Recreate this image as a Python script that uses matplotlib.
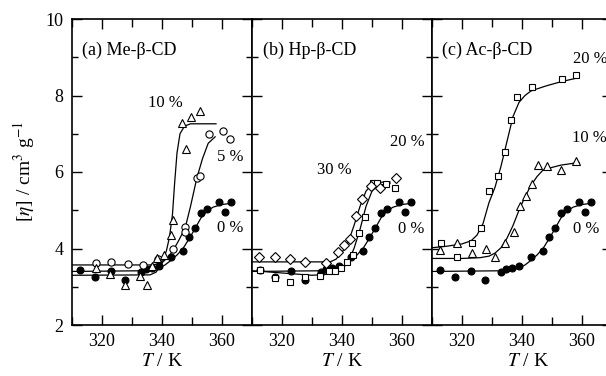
import numpy as np
import matplotlib
matplotlib.use("Agg")
import matplotlib.pyplot as plt
from matplotlib.ticker import MultipleLocator

plt.rcParams['font.family'] = ['Liberation Serif', 'DejaVu Serif']
plt.rcParams['mathtext.fontset'] = 'stix'

# =======================
# data
# =======================

# 0 % (same reference data in every panel)
t_0 = [312.7, 317.8, 323.0, 327.8, 333.0, 334.8, 336.8, 339.0, 343.0, 347.0, 349.0, 351.0, 353.0, 355.0, 359.0, 361.0, 363.0]
eta_0 = [3.44, 3.26, 3.41, 3.17, 3.39, 3.46, 3.49, 3.54, 3.77, 3.94, 4.31, 4.53, 4.92, 5.03, 5.21, 4.95, 5.22]
fit_t_0 = [310, 336, 339, 341, 343, 345, 347, 349, 351, 353, 355, 357, 360, 363]
fit_0 = [3.40, 3.42, 3.49, 3.57, 3.69, 3.83, 4.00, 4.25, 4.52, 4.80, 4.98, 5.08, 5.15, 5.18]

# (a) Me-b-CD
t_a5 = [318.0, 323.1, 328.5, 333.7, 338.8, 343.8, 347.7, 347.7, 351.6, 352.8, 355.6, 360.2, 362.8]
eta_a5 = [3.61, 3.64, 3.59, 3.57, 3.72, 3.98, 4.56, 4.43, 5.85, 5.90, 7.00, 7.08, 6.86]
fit_t_a5 = [310, 337, 340, 342, 343.8, 345.5, 347.7, 349.5, 351.6, 353.5, 355.4, 357.7]
fit_a5 = [3.57, 3.57, 3.63, 3.77, 3.96, 4.20, 4.53, 5.10, 5.84, 6.35, 6.75, 6.92]

t_a10 = [318.0, 322.5, 327.6, 332.8, 335.0, 336.8, 338.4, 340.7, 343.0, 343.6, 346.8, 348.0, 349.8, 352.8]
eta_a10 = [3.48, 3.33, 3.05, 3.27, 3.05, 3.54, 3.74, 3.84, 4.35, 4.75, 7.29, 6.59, 7.43, 7.60]
fit_t_a10 = [310, 336, 338, 340, 341.5, 342.5, 343.5, 344.2, 345, 346, 347.5, 349.5, 358]
fit_a10 = [3.30, 3.31, 3.38, 3.60, 3.95, 4.30, 4.90, 5.70, 6.50, 7.00, 7.20, 7.26, 7.26]

# (b) Hp-b-CD
t_b20 = [312.5, 317.7, 322.7, 327.6, 332.8, 335.7, 337.8, 339.8, 341.6, 343.6, 345.8, 347.7, 350.2, 351.6, 354.7, 357.7]
eta_b20 = [3.43, 3.23, 3.12, 3.26, 3.28, 3.41, 3.41, 3.50, 3.66, 3.83, 4.41, 4.83, 5.70, 5.72, 5.69, 5.57]
fit_t_b20 = [310, 320, 330, 336, 340, 342, 344, 346, 348, 350, 352, 356]
fit_b20 = [3.42, 3.36, 3.30, 3.33, 3.45, 3.65, 4.00, 4.50, 5.10, 5.50, 5.65, 5.70]

t_b30 = [312.4, 317.8, 322.8, 327.8, 334.6, 338.8, 340.8, 342.7, 344.6, 346.5, 349.6, 352.6, 358.0]
eta_b30 = [3.79, 3.79, 3.73, 3.66, 3.61, 3.90, 4.08, 4.26, 4.84, 5.29, 5.64, 5.57, 5.84]
fit_t_b30 = [310, 336, 338, 340, 342, 344, 346, 348, 350, 352, 356]
fit_b30 = [3.65, 3.65, 3.72, 3.90, 4.15, 4.60, 5.10, 5.50, 5.68, 5.73, 5.74]

# (c) Ac-b-CD
t_c10 = [312.7, 318.2, 323.2, 328.0, 331.0, 334.3, 337.3, 339.3, 341.2, 343.4, 345.4, 348.2, 352.9, 358.0]
eta_c10 = [3.96, 4.15, 3.87, 3.98, 3.79, 4.15, 4.43, 5.10, 5.37, 5.68, 6.18, 6.16, 6.05, 6.30]
fit_t_c10 = [310, 320, 326, 329, 331, 333, 335, 337, 339, 341, 343, 345, 347, 350, 353, 359]
fit_c10 = [3.74, 3.74, 3.76, 3.80, 3.88, 4.02, 4.27, 4.60, 5.00, 5.35, 5.65, 5.88, 6.05, 6.12, 6.18, 6.25]

t_c20 = [313.0, 318.2, 323.2, 326.2, 329.1, 332.1, 334.3, 336.2, 338.2, 343.4, 353.2, 358.0]
eta_c20 = [4.14, 3.79, 4.15, 4.53, 5.51, 5.89, 6.53, 7.35, 7.97, 8.21, 8.43, 8.54]
fit_t_c20 = [310, 315, 320, 323, 325, 327, 329, 331, 333, 335, 337, 339, 341, 343, 348, 353, 358]
fit_c20 = [4.02, 4.06, 4.12, 4.20, 4.35, 4.65, 5.20, 5.60, 6.15, 6.80, 7.45, 7.82, 8.00, 8.12, 8.25, 8.36, 8.45]

# =======================
# figure
# =======================

fig = plt.figure(figsize=(6.06, 3.76), dpi=100)
W, H = 606.0, 376.0
lefts = [72, 252, 432]
axes = [fig.add_axes([l / W, 51 / H, 180 / W, 306 / H]) for l in lefts]

fs = 13
mk = dict(markeredgecolor="black", markeredgewidth=0.8, linestyle="none", clip_on=False)


def pts(ax, t, y, marker, size, face):
    ax.plot(t, y, marker=marker, markersize=size, markerfacecolor=face, zorder=3, **mk)


def curve(ax, t, y):
    ax.plot(t, y, color="black", lw=0.9, zorder=2)


for ax in axes:
    curve(ax, fit_t_0, fit_0)
    pts(ax, t_0, eta_0, "o", 5.0, "black")

ax = axes[0]
curve(ax, fit_t_a5, fit_a5)
curve(ax, fit_t_a10, fit_a10)
pts(ax, t_a5, eta_a5, "o", 5.2, "white")
pts(ax, t_a10, eta_a10, "^", 5.6, "white")
ax.text(313.3, 9.19, "(a) Me-β-CD", fontsize=fs, va="center")
ax.text(335.3, 7.8, "10 %", fontsize=fs - 1, va="center")
ax.text(358.2, 6.4, "5 %", fontsize=fs - 1, va="center")
ax.text(358.2, 4.53, "0 %", fontsize=fs - 1, va="center")

ax = axes[1]
curve(ax, fit_t_b20, fit_b20)
curve(ax, fit_t_b30, fit_b30)
pts(ax, t_b20, eta_b20, "s", 4.2, "white")
pts(ax, t_b30, eta_b30, "D", 4.6, "white")
ax.text(313.6, 9.19, "(b) Hp-β-CD", fontsize=fs, va="center")
ax.text(331.8, 6.05, "30 %", fontsize=fs - 1, va="center")
ax.text(356.0, 6.79, "20 %", fontsize=fs - 1, va="center")
ax.text(358.8, 4.5, "0 %", fontsize=fs - 1, va="center")

ax = axes[2]
curve(ax, fit_t_c10, fit_c10)
curve(ax, fit_t_c20, fit_c20)
pts(ax, t_c10, eta_c10, "^", 5.6, "white")
pts(ax, t_c20, eta_c20, "s", 4.2, "white")
ax.text(313.2, 9.19, "(c) Ac-β-CD", fontsize=fs, va="center")
ax.text(357.1, 8.95, "20 %", fontsize=fs - 1, va="center")
ax.text(356.6, 6.9, "10 %", fontsize=fs - 1, va="center")
ax.text(357.1, 4.5, "0 %", fontsize=fs - 1, va="center")

for i, ax in enumerate(axes):
    ax.set_xlim(310, 370)
    ax.set_ylim(2, 10)
    ax.xaxis.set_major_locator(MultipleLocator(20))
    ax.xaxis.set_minor_locator(MultipleLocator(10))
    ax.yaxis.set_major_locator(MultipleLocator(2))
    ax.yaxis.set_minor_locator(MultipleLocator(1))
    ax.set_xticks([320, 340, 360])
    ax.tick_params(which="both", direction="in", top=True, right=True, labelsize=fs, width=1.0)
    ax.tick_params(which="major", length=7, pad=6)
    ax.tick_params(which="minor", length=4)
    ax.tick_params(axis="x", which="minor", length=6)
    for s in ax.spines.values():
        s.set_linewidth(1.2)
    ax.set_xlabel("$T$ / K", fontsize=fs + 1, labelpad=2)
    if i > 0:
        ax.tick_params(labelleft=False)

axes[2].xaxis.set_label_coords(0.533, -0.09)
axes[0].xaxis.set_label_coords(0.5, -0.09)
axes[1].xaxis.set_label_coords(0.5, -0.09)
axes[0].set_ylabel("[$\\eta$] / cm$^{3}$ g$^{-1}$", fontsize=fs + 1, labelpad=6)

fig.savefig("out.png", dpi=100)
